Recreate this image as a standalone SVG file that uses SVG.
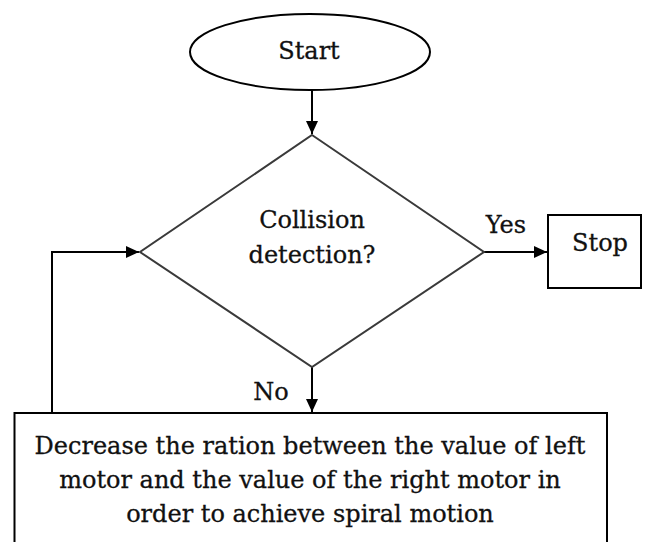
<svg xmlns="http://www.w3.org/2000/svg" width="648" height="542" viewBox="0 0 648 542">
  <style>
    .shape { fill: #ffffff; stroke: #000000; stroke-width: 2; }
    .diamond { fill: #ffffff; stroke: #3a3a3a; stroke-width: 2; }
    .edge { fill: none; stroke: #000000; stroke-width: 2; }
    .lbl { font-family: "DejaVu Serif", "Liberation Serif", serif; font-size: 24px; fill: #111111; stroke: #111111; stroke-width: 0.3; text-anchor: middle; }
  </style>
  <defs>
    <marker id="arrow" viewBox="0 0 13 12" refX="13" refY="6" markerWidth="13" markerHeight="12" markerUnits="userSpaceOnUse" orient="auto">
      <path d="M0,0 L13,6 L0,12 z" fill="#000000"/>
    </marker>
  </defs>

  <rect width="648" height="542" fill="#ffffff"/>

  <g id="connectors">
    <path class="edge" d="M312,90 V134" marker-end="url(#arrow)"/>
    <path class="edge" d="M484,252 H547" marker-end="url(#arrow)"/>
    <path class="edge" d="M312,367 V412" marker-end="url(#arrow)"/>
    <path class="edge" d="M52,413 V252 H139" marker-end="url(#arrow)"/>
    <text class="lbl" x="506" y="233">Yes</text>
    <text class="lbl" x="271" y="400">No</text>
  </g>

  <g id="start">
    <ellipse class="shape" cx="310" cy="52" rx="120" ry="38"/>
    <text class="lbl" x="309" y="59">Start</text>
  </g>

  <g id="collision">
    <polygon class="diamond" points="312,135 484,252 312,367 140,252"/>
    <text class="lbl" x="312" y="228">Collision</text>
    <text class="lbl" x="312" y="263">detection?</text>
  </g>

  <g id="stop">
    <rect class="shape" x="548" y="215" width="93" height="73"/>
    <text class="lbl" x="600" y="251">Stop</text>
  </g>

  <g id="decrease">
    <rect class="shape" x="14.5" y="413" width="592.5" height="150"/>
    <text class="lbl" x="310" y="454">Decrease the ration between the value of left</text>
    <text class="lbl" x="310" y="488">motor and the value of the right motor in</text>
    <text class="lbl" x="310" y="522">order to achieve spiral motion</text>
  </g>
</svg>
